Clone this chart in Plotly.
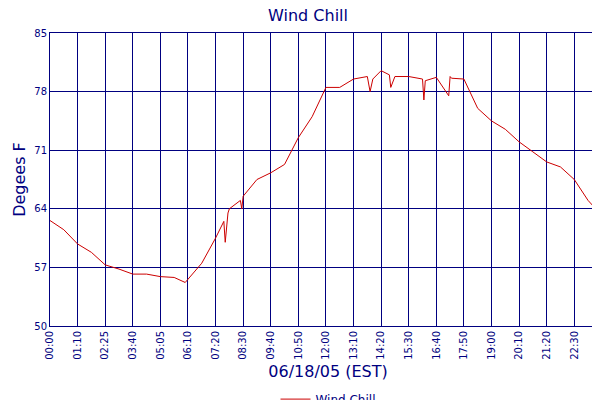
import plotly.graph_objects as go

# x positions in tick-slot units (the source axis is evenly spaced per label)
pos = [0, 0.5, 1, 1.5, 2, 2.5, 3, 3.5, 4, 4.5, 4.9, 5, 5.5, 6, 6.3, 6.35, 6.45, 6.5, 6.9, 6.95, 7.0,
       7.5, 8, 8.5, 9, 9.5, 10, 10.5, 11, 11.5, 11.6, 11.7, 12, 12.3, 12.35, 12.5, 13, 13.5, 13.55,
       13.6, 14, 14.45, 14.5, 14.55, 15, 15.5, 16, 16.5, 17, 17.5, 18, 18.5, 19, 19.5, 20, 20.15]
chill = [62.6, 61.5, 59.8, 58.8, 57.3, 56.8, 56.2, 56.2, 55.9, 55.8, 55.2, 55.6, 57.5, 60.5, 62.5, 60.0, 63.5,
         64.0, 65.0, 64.0, 65.5, 67.5, 68.3, 69.3, 72.5, 75.0, 78.5, 78.5, 79.5, 79.8, 78.0, 79.5, 80.5,
         80.0, 78.5, 79.8, 79.8, 79.5, 77.0, 79.3, 79.7, 77.5, 79.8, 79.6, 79.5, 76.0, 74.5, 73.5, 72.0,
         70.8, 69.6, 69.0, 67.5, 65.0, 63.2, 62.8]

tick_pos = list(range(21)) + [20.1, 20.15]
tick_text = ["00:00", "01:10", "02:25", "03:40", "05:05", "06:10", "07:20", "08:30", "09:40", "10:50",
             "12:00", "13:10", "14:20", "15:30", "16:40", "17:50", "19:00", "20:10", "21:20", "22:30",
             "23:40", "23:58", "23:59"]
y_ticks = [50, 57, 64, 71, 78, 85]

navy = "#000080"
fig = go.Figure()
fig.add_scatter(x=pos, y=chill, mode="lines", name="Wind Chill",
                line=dict(color="#cc0000", width=1))

fig.update_layout(
    width=600, height=400,
    margin=dict(l=42, r=2, t=25, b=82, autoexpand=False),
    paper_bgcolor="white", plot_bgcolor="white",
    font=dict(family="DejaVu Sans", color=navy, size=11),
    title=dict(text="Wind Chill", x=0.5, y=0.995, yanchor="top", font=dict(size=16, color=navy)),
    showlegend=True,
    legend=dict(orientation="h", x=0.5, xanchor="center", y=-0.2, yanchor="top",
                font=dict(size=12, color=navy), itemwidth=30),
)
fig.update_xaxes(range=[0, 20.15], tickvals=tick_pos, ticktext=tick_text, tickangle=-90,
                 showgrid=True, gridcolor=navy, gridwidth=1, showline=True, linecolor=navy,
                 mirror=True, zeroline=False, tickfont=dict(size=10, color=navy), automargin=False,
                 title=dict(text="06/18/05 (EST)", font=dict(size=16, color=navy), standoff=6))
fig.update_yaxes(range=[50, 85], tickvals=y_ticks, showgrid=True, gridcolor=navy, gridwidth=1,
                 showline=True, linecolor=navy, mirror=True, zeroline=False, automargin=False,
                 tickfont=dict(size=10, color=navy),
                 title=dict(text="Degees F", font=dict(size=16, color=navy), standoff=4))

fig.write_html("out.html")
